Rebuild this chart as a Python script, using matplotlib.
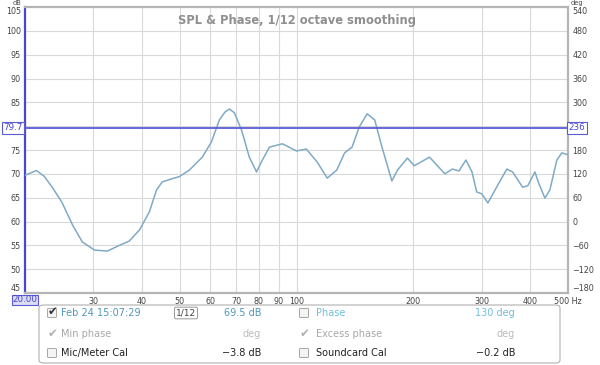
import matplotlib
matplotlib.use("Agg")
import matplotlib.pyplot as plt
from matplotlib.patches import FancyBboxPatch

# ---- data ----
freq_hz = [20.0, 21.4, 22.4, 23.5, 24.9, 26.5, 28.1, 30.2, 32.6, 35.0, 37.1, 39.4, 41.8,
           43.6, 45.1, 47.9, 49.9, 53.0, 57.2, 60.4, 63.3, 65.5, 67.2, 69.2, 72.2, 75.6,
           78.9, 81.7, 85.2, 92.0, 100, 106, 113, 120, 127, 133, 139, 145, 152, 159,
           166, 176, 182, 193, 201, 220, 241, 252, 262, 273, 283, 291, 300, 311, 330,
           348, 360, 382, 394, 411, 420, 436, 449, 468, 482, 500]
spl_db = [69.7, 70.7, 69.5, 67.2, 64.0, 59.3, 55.7, 54.0, 53.8, 55.0, 55.9, 58.2, 62.0,
          66.6, 68.3, 69.0, 69.4, 70.8, 73.5, 76.7, 81.3, 83.0, 83.6, 82.8, 79.2, 73.5,
          70.4, 72.9, 75.6, 76.3, 74.8, 75.2, 72.5, 69.1, 70.8, 74.4, 75.6, 79.8,
          82.6, 81.3, 75.6, 68.5, 70.8, 73.3, 71.7, 73.5, 70.0, 71.0, 70.6, 72.9,
          70.4, 66.2, 65.8, 63.9, 67.7, 71.0, 70.4, 67.2, 67.5, 70.4, 68.1, 64.9,
          66.6, 72.9, 74.4, 74.0]
db_ticks = [45, 50, 55, 60, 65, 70, 75, 80, 85, 90, 95, 100, 105]
deg_ticks = [-180, -120, -60, 0, 60, 120, 180, 240, 300, 360, 420, 480, 540]
x_ticks = [30, 40, 50, 60, 70, 80, 90, 100, 200, 300, 400, 500]
x_ticklabels = ["30", "40", "50", "60", "70", "80", "90", "100", "200", "300", "400", "500 Hz"]
cursor_db = 79.7
cursor_deg = "236"
cursor_freq = "20.00"
title = "SPL & Phase, 1/12 octave smoothing"

W, H = 600, 365
fig = plt.figure(figsize=(W / 100, H / 100), dpi=100)
fig.patch.set_facecolor("white")

L, R, T, B = 25, 568, 7, 293
ax = fig.add_axes([L / W, 1 - B / H, (R - L) / W, (B - T) / H])
ax.set_xscale("log")
ax.set_xlim(20, 500)
ax.set_ylim(45, 105)

grid_c = "#d9d9d9"
for y in db_ticks[1:-1]:
    ax.axhline(y, color=grid_c, lw=0.8, zorder=1)
for x in x_ticks[:-1]:
    ax.axvline(x, color=grid_c, lw=0.8, zorder=1)

ax.plot(freq_hz, spl_db, color="#7faac6", lw=1.1, zorder=3, solid_joinstyle="round")
ax.axhline(cursor_db, color="#5b5bd6", lw=1.3, zorder=4)

ax.set_xticks(x_ticks)
ax.set_xticklabels(x_ticklabels)
ax.xaxis.set_minor_locator(matplotlib.ticker.NullLocator())
ax.set_yticks(db_ticks)
# the 80 label is hidden behind the cursor box in the reference
ax.set_yticklabels(["" if v == 80 else str(v) for v in db_ticks])
ax.tick_params(axis="both", length=0, labelsize=5.8, colors="#444444", pad=3)
ylabs = ax.get_yticklabels()
ylabs[0].set_va("bottom")
ylabs[-1].set_va("top")

for s in ["top", "right", "bottom"]:
    ax.spines[s].set_color("#b5b5b5")
    ax.spines[s].set_linewidth(1.6)
ax.spines["left"].set_color("#4747d0")
ax.spines["left"].set_linewidth(1.6)

ax2 = ax.twinx()
ax2.set_ylim(-180, 540)
ax2.set_yticks(deg_ticks)
ax2.set_yticklabels(["" if v == 240 else str(v).replace("-", "\u2212") for v in deg_ticks])
ax2.tick_params(axis="y", length=0, labelsize=5.8, colors="#444444", pad=3)
rlabs = ax2.get_yticklabels()
rlabs[0].set_va("bottom")
rlabs[-1].set_va("top")
for s in ax2.spines.values():
    s.set_visible(False)

def fx(x):
    return x / W

def fy(y):
    return 1 - y / H

fig.text(fx(21), fy(3), "dB", fontsize=4.8, color="#444444", ha="right", va="center")
fig.text(fx(571), fy(3), "deg", fontsize=4.8, color="#444444", ha="left", va="center")

ax.text(0.5, 0.975, title, transform=ax.transAxes, ha="center", va="top",
        fontsize=8.3, fontweight="bold", color="#8f8f8f", zorder=6)

box_kw = dict(boxstyle="square,pad=0.15", fc="white", ec="#5b5bd6", lw=0.8)
fig.text(fx(12.5), fy(128), f"{cursor_db}", fontsize=6.3, color="#4747d0",
         ha="center", va="center", bbox=box_kw, zorder=10)
fig.text(fx(577), fy(128), cursor_deg, fontsize=6.3, color="#4747d0",
         ha="center", va="center", bbox=box_kw, zorder=10)
fig.text(fx(25), fy(300), cursor_freq, fontsize=6.3, color="#4747d0",
         ha="center", va="center", zorder=10,
         bbox=dict(boxstyle="square,pad=0.1", fc="#dcdcf5", ec="#5b5bd6", lw=0.8))

# ---- legend panel ----
panel = FancyBboxPatch((fx(39), fy(363)), fx(560) - fx(39), fy(305) - fy(363),
                       boxstyle="round,pad=0,rounding_size=0.008",
                       transform=fig.transFigure, fc="white", ec="#b0b0b0", lw=0.8)
fig.patches.append(panel)

def checkbox(x, y, checked, color="#333333", box=True):
    if box:
        cb = FancyBboxPatch((fx(x - 4.5), fy(y + 4.5)), 9 / W, 9 / H,
                            boxstyle="round,pad=0,rounding_size=0.002",
                            transform=fig.transFigure, fc="#f4f4f4",
                            ec="#9a9a9a", lw=0.6)
        fig.patches.append(cb)
    if checked:
        fig.text(fx(x + 1), fy(y - 1), "\u2714", fontsize=8.5, color=color,
                 ha="center", va="center", family="DejaVu Sans")

fs = 7
rows = [313, 334, 353]
teal = "#4f97bd"
light = "#6fbfdc"
grey = "#a8a8a8"

checkbox(52, rows[0], True, color="#333333")
fig.text(fx(61), fy(rows[0]), "Feb 24 15:07:29", fontsize=fs, color=teal, va="center")
fig.text(fx(186), fy(rows[0]), "1/12", fontsize=6.5, color="#444444", ha="center",
         va="center", bbox=dict(boxstyle="round,pad=0.15", fc="white", ec="#888888", lw=0.6))
fig.text(fx(261), fy(rows[0]), "69.5 dB", fontsize=fs, color=teal, ha="right", va="center")
checkbox(304, rows[0], False)
fig.text(fx(316), fy(rows[0]), "Phase", fontsize=fs, color=light, va="center")
fig.text(fx(515), fy(rows[0]), "130 deg", fontsize=fs, color=light, ha="right", va="center")

checkbox(52, rows[1], True, color="#b0b0b0", box=False)
fig.text(fx(61), fy(rows[1]), "Min phase", fontsize=fs, color=grey, va="center")
fig.text(fx(261), fy(rows[1]), "deg", fontsize=fs, color="#bbbbbb", ha="right", va="center")
checkbox(304, rows[1], True, color="#b0b0b0", box=False)
fig.text(fx(316), fy(rows[1]), "Excess phase", fontsize=fs, color=grey, va="center")
fig.text(fx(515), fy(rows[1]), "deg", fontsize=fs, color="#bbbbbb", ha="right", va="center")

checkbox(52, rows[2], False)
fig.text(fx(61), fy(rows[2]), "Mic/Meter Cal", fontsize=fs, color="#222222", va="center")
fig.text(fx(261), fy(rows[2]), "\u22123.8 dB", fontsize=fs, color="#222222", ha="right", va="center")
checkbox(304, rows[2], False)
fig.text(fx(316), fy(rows[2]), "Soundcard Cal", fontsize=fs, color="#222222", va="center")
fig.text(fx(515), fy(rows[2]), "\u22120.2 dB", fontsize=fs, color="#222222", ha="right", va="center")

fig.savefig("out.png", dpi=100, facecolor="white")
